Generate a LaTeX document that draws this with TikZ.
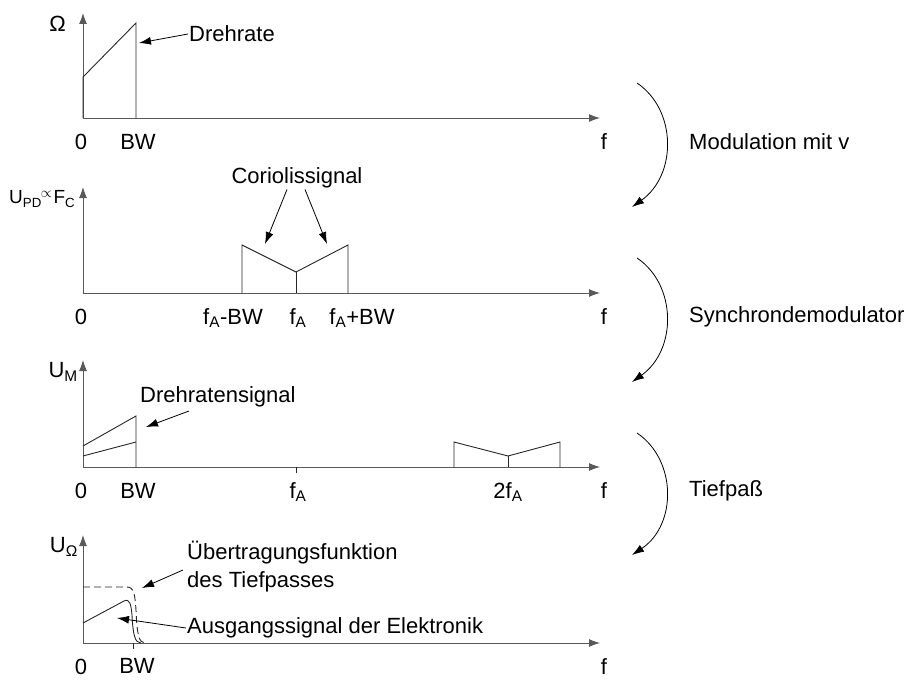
\documentclass[tikz,border=0pt]{standalone}
\usepackage{fontspec}
\setmainfont{Liberation Sans}
\usetikzlibrary{arrows.meta}

\begin{document}
\begin{tikzpicture}[x=1pt,y=-1pt,
    axis/.style={draw=black!65, line width=0.9pt, -{Latex[length=11pt,width=8pt]}},
    sig/.style={draw=black!85, line width=0.9pt},
    pointer/.style={draw=black, line width=0.8pt, -{Latex[length=12pt,width=8pt]}},
    lbl/.style={anchor=base, inner sep=1pt, font=\fontsize{22}{26}\selectfont},
    txt/.style={anchor=west, inner sep=1pt, font=\fontsize{22}{26}\selectfont},
    ylbl/.style={anchor=east, inner sep=1pt, font=\fontsize{22}{26}\selectfont}
  ]
  \useasboundingbox (0,0) rectangle (920,682);

  \foreach \b/\t/\i in {118/13/1, 293/187/2, 467/360/3, 643/535/4} {
    \coordinate (o\i) at (83,\b);
    \draw[axis] (o\i) -- (83,\t);
    \draw[axis] (o\i) -- (600,\b);
    \node[lbl] (null\i) at (81,\b+31) {0};
    \node[lbl] (f\i) at (604,\b+31) {f};
  }

  % Drehrate
  \node[ylbl] (ylbl1) at (67,24) {Ω};
  \draw[sig] (o1) -- (83,77) -- (136,23) -- (136,118);
  \node[lbl] (bw1) at (138,149) {BW};
  \node[txt] (drehrate) at (188,34) {Drehrate};
  \coordinate (drehtip) at (139,43);
  \draw[pointer] (drehrate.west) -- (drehtip);

  % Coriolissignal
  \node[anchor=west, inner sep=0pt, font=\fontsize{19}{22}\selectfont] (ylbl2) at (9,199) {U\textsubscript{PD}\kern-1pt\textsuperscript{$\propto$}\kern1pt F\textsubscript{C}};
  \draw[sig] (242,293) -- (242,245) -- (296,272) -- (348,245) -- (348,293);
  \draw[sig] (296,293) -- (296,272);
  \node[font=\fontsize{22}{26}\selectfont, inner sep=1pt] (coriolis) at (297,178) {Coriolissignal};
  \coordinate (cortipl) at (265,244);
  \coordinate (cortipr) at (327,244);
  \draw[pointer] ([xshift=-10pt]coriolis.south) -- (cortipl);
  \draw[pointer] ([xshift=8pt]coriolis.south) -- (cortipr);
  \node[lbl] (fmbw) at (233,324) {f\textsubscript{A}-BW};
  \node[lbl] (fa2) at (298,324) {f\textsubscript{A}};
  \node[lbl] (fpbw) at (362,324) {f\textsubscript{A}+BW};

  % Drehratensignal
  \node[ylbl] (ylbl3) at (79,372) {U\textsubscript{M}};
  \draw[sig] (83,446) -- (136,416) -- (136,467);
  \draw[sig] (83,456) -- (136,442);
  \draw[sig] (454,467) -- (454,442) -- (508,456) -- (560,442) -- (560,467);
  \draw[sig] (508,467) -- (508,456);
  \draw[sig] (296,467) -- (296,473);
  \node[txt] (drehsig) at (139,397) {Drehratensignal};
  \coordinate (drehsigtip) at (146,427);
  \draw[pointer] (189,411) -- (drehsigtip);
  \node[lbl] (bw3) at (138,498) {BW};
  \node[lbl] (fa3) at (298,498) {f\textsubscript{A}};
  \node[lbl] (tfa3) at (508,498) {2f\textsubscript{A}};

  % Tiefpass
  \node[ylbl] (ylbl4) at (79,547) {U\textsubscript{Ω}};
  \draw[sig, dash pattern=on 7pt off 4pt] (83,587) -- (127,587)
    .. controls (134,587) and (135,595) .. (136,610)
    .. controls (137,635) and (139,643) .. (145,643);
  \draw[sig] (83,623) -- (124,601)
    .. controls (130,598) and (131,605) .. (132,615)
    .. controls (133,635) and (135,643) .. (141,643);
  \draw[sig] (133,643) -- (133,649);
  \node[lbl] (bw4) at (137,673) {BW};
  \node[txt] (uebertr) at (186,553) {Übertragungsfunktion};
  \node[txt] (tiefp) at (186,582) {des Tiefpasses};
  \node[txt] (ausg) at (186,628) {Ausgangssignal der Elektronik};
  \coordinate (uebtip) at (142,588);
  \coordinate (ausgtip) at (117,618);
  \draw[pointer] (183,570) -- (uebtip);
  \draw[pointer] (ausg.west) -- (ausgtip);

  % Verarbeitungsschritte
  \foreach \s/\e/\name/\i in {83/207/Modulation mit v/1, 258/382/Synchrondemodulator/2, 433/555/Tiefpaß/3} {
    \draw[draw=black, line width=0.8pt, -{Latex[length=12pt,width=8pt]}]
      (637,\s) .. controls (677,\s+27) and (677,\s+92) .. (632,\e);
    \node[txt] (step\i) at (688,{(\s+\e)/2-3}) {\name};
  }
\end{tikzpicture}
\end{document}
